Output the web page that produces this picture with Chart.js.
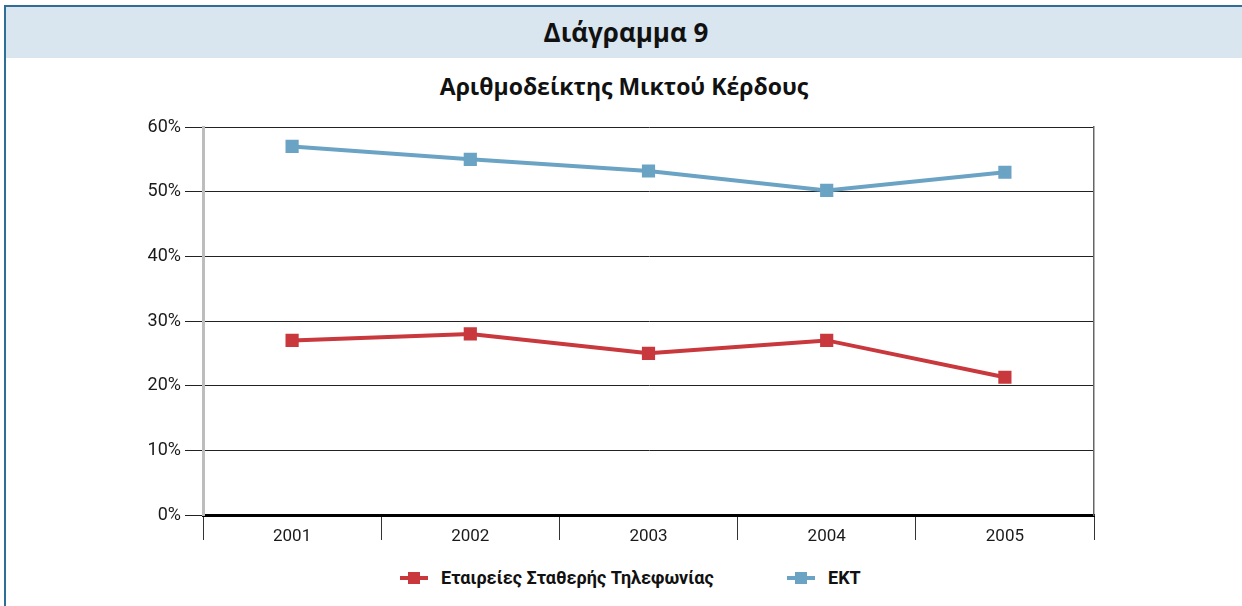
<!DOCTYPE html>
<html>
<head>
<meta charset="utf-8">
<script src="https://cdn.jsdelivr.net/npm/chart.js@4.4.1/dist/chart.umd.min.js"></script>
<style>
  body { margin: 0; background: #fff; width: 1242px; height: 606px; overflow: hidden; position: relative; }
  #frame { position: absolute; left: 4px; top: 5px; width: 1240px; height: 603px; border-top: 2px solid #2f6f95; border-left: 2px solid #2f6f95; }
  #head { position: absolute; left: 0; top: 0; right: 0; height: 51px; background: #d9e5ef; text-align: center;
          font: bold 26px "Open Sans", sans-serif; line-height: 50px; color: #111; }
  #titulo { position: absolute; left: 0; width: 1248px; top: 70px; text-align: center;
            font: bold 23px "Open Sans", sans-serif; line-height: 32px; color: #111; }
  #box { position: absolute; left: 6px; top: 100px; width: 1236px; height: 449px; }
  .leg { position: absolute; top: 566px; height: 24px; font: bold 18px Roboto, sans-serif; line-height: 24px; color: #111; white-space: nowrap; }
  .leg i { position: absolute; left: 0; top: 10px; width: 28px; height: 4px; }
  .leg i b { position: absolute; left: 8px; top: -4px; width: 12px; height: 12px; background: inherit; }
  .leg span { position: absolute; left: 41px; top: 0; }
</style>
</head>
<body>
<div id="frame"><div id="head">Διάγραμμα 9</div></div>
<div id="titulo">Αριθμοδείκτης Μικτού Κέρδους</div>
<div id="box"><canvas id="grafico"></canvas></div>
<div id="legenda"></div>
<script>
var anos = ['2001', '2002', '2003', '2004', '2005'];
var telefonia = [27.0, 28.0, 25.0, 27.0, 21.3];
var ekt = [57.0, 55.0, 53.2, 50.2, 53.0];
var yTicks = [0, 10, 20, 30, 40, 50, 60];
var series = ['Εταιρείες Σταθερής Τηλεφωνίας', 'ΕΚΤ'];
var cores = ['#c8383c', '#6aa3c4'];

// legenda em html, linha com quadrado
var posLegenda = [400, 787];
var leg = document.getElementById('legenda');
series.forEach(function (nome, i) {
  var d = document.createElement('div');
  d.className = 'leg';
  d.style.left = posLegenda[i] + 'px';
  d.innerHTML = '<i style="background:' + cores[i] + '"><b></b></i><span>' + nome + '</span>';
  leg.appendChild(d);
});

new Chart(document.getElementById('grafico'), {
  type: 'line',
  data: {
    labels: anos,
    datasets: [{
      label: series[0],
      data: telefonia,
      borderColor: cores[0],
      backgroundColor: cores[0],
      borderWidth: 4,
      pointStyle: 'rect',
      pointRadius: 6.5,
      pointHoverRadius: 6.5,
      fill: false
    }, {
      label: series[1],
      data: ekt,
      borderColor: cores[1],
      backgroundColor: cores[1],
      borderWidth: 4,
      pointStyle: 'rect',
      pointRadius: 6.5,
      pointHoverRadius: 6.5,
      fill: false
    }]
  },
  options: {
    responsive: true,
    maintainAspectRatio: false,
    animation: false,
    layout: { padding: { left: 0, right: 148, top: 27, bottom: 0 } },
    plugins: {
      legend: { display: false },
      tooltip: { enabled: false }
    },
    scales: {
      x: {
        offset: true,
        afterFit: function (axis) { axis.height = 34; },
        grid: { offset: true, drawOnChartArea: false, drawTicks: true, tickLength: 25, color: '#333', lineWidth: 1 },
        border: { color: '#000', width: 3 },
        ticks: { color: '#1a1a1a', font: { family: 'Roboto', size: 17 }, padding: -13 }
      },
      y: {
        min: 0,
        max: 60,
        afterBuildTicks: function (axis) {
          axis.ticks = yTicks.map(function (v) { return { value: v }; });
        },
        afterFit: function (axis) { axis.width = 197; },
        grid: { color: '#222', lineWidth: 1, tickLength: 18 },
        border: { color: '#bdbdbd', width: 3 },
        ticks: {
          color: '#1a1a1a',
          font: { family: 'Roboto', size: 18 },
          padding: 4,
          callback: function (v) { return v + '%'; }
        }
      },
      y2: {
        position: 'right',
        min: 0,
        max: 60,
        grid: { drawOnChartArea: false, drawTicks: false },
        border: { color: '#666', width: 1.5 },
        ticks: { display: false }
      }
    }
  }
});
</script>
</body>
</html>
